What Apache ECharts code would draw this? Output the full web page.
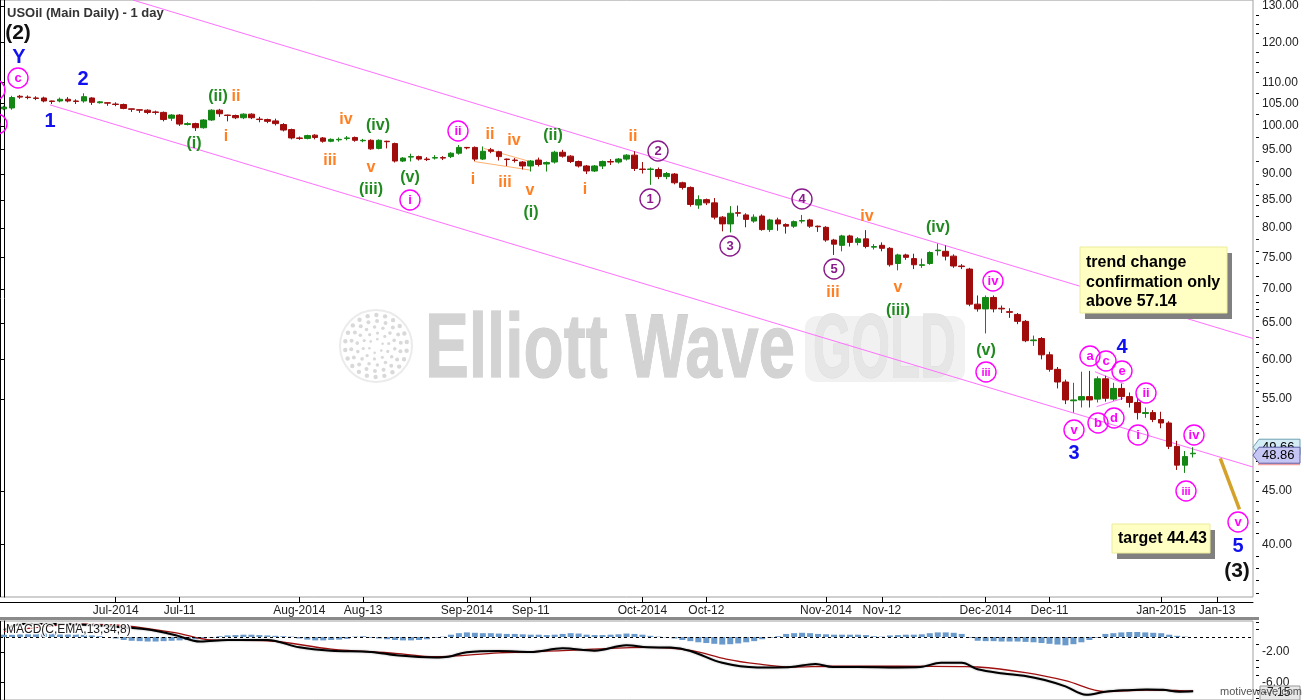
<!DOCTYPE html>
<html><head><meta charset="utf-8">
<script src="https://cdn.jsdelivr.net/npm/echarts@6/dist/echarts.min.js"></script>
<style>html,body{margin:0;padding:0;background:#fff}#c{width:1304px;height:700px}</style>
</head><body><div id="c"></div>
<script>
// ---------------- DATA ----------------
const startDate = '2014-06-11';
const skipDates = ['2014-12-25', '2015-01-01'];
const totalBars = 157; // 150 trading bars + empty space on the right

const opens  = [103.8,104.0,106.7,106.5,106.3,106.3,105.6,105.6,106.0,105.6,105.6,106.3,105.2,105.2,104.9,104.8,103.8,103.6,103.5,103.1,
103.0,101.7,102.4,100.3,100.5,99.6,101.3,103.5,102.4,102.3,101.8,102.6,101.5,101.4,101.1,100.3,99.2,97.4,97.3,98.0,
97.4,96.7,97.0,97.3,97.5,96.8,96.9,95.2,96.7,96.2,92.6,93.4,93.5,93.0,93.2,93.3,93.5,94.2,95.4,95.4,
93.0,94.9,94.5,93.0,92.8,92.4,91.6,92.8,92.0,92.4,94.4,93.6,92.5,91.6,90.6,91.6,92.5,92.4,93.0,93.8,
91.0,90.9,90.9,89.5,90.0,88.3,87.4,84.1,85.1,84.5,81.9,80.7,82.7,82.3,81.2,82.1,79.7,81.4,80.6,80.3,
81.2,81.4,80.3,80.1,77.9,77.0,78.6,77.5,78.1,76.7,77.0,76.5,74.0,75.4,74.8,73.7,74.0,76.1,76.0,75.2,
73.6,73.1,67.7,67.0,68.7,67.1,66.6,66.2,65.2,62.5,62.8,60.6,58.7,57.1,54.8,54.9,55.3,55.0,57.5,55.0,
56.3,55.3,54.6,53.3,53.4,52.6,52.2,49.6,47.6,48.8];
const closes = [104.2,106.4,106.5,106.4,106.2,105.6,105.5,106.0,105.6,105.5,106.6,105.3,105.4,105.1,104.8,103.9,103.7,103.5,103.0,103.0,
101.4,102.4,100.4,100.5,99.6,101.3,103.5,102.7,102.3,101.8,102.6,101.8,101.4,101.0,100.5,99.1,97.4,97.3,97.9,97.5,
96.7,97.1,97.1,97.4,96.9,96.9,95.1,96.9,96.6,92.6,93.2,93.5,93.0,92.9,93.3,93.2,94.2,95.4,95.3,93.0,
94.6,94.6,93.5,92.9,92.7,91.6,92.6,91.9,92.3,94.4,93.6,92.5,91.6,90.6,91.6,92.5,92.4,93.0,93.8,91.1,
90.9,91.0,89.5,90.1,88.3,87.4,84.2,85.1,84.5,81.9,80.7,82.6,82.6,81.5,81.9,79.7,81.4,80.7,80.3,81.1,
81.3,80.3,80.2,77.9,77.2,78.6,77.5,78.1,76.8,76.8,76.5,73.8,75.4,75.0,73.8,73.8,75.8,76.2,75.2,73.6,
73.5,67.7,67.0,68.7,67.0,67.0,66.5,65.2,62.5,62.6,60.6,58.7,57.1,54.9,54.9,55.3,54.9,57.5,55.1,56.3,
55.3,54.6,53.4,53.4,52.6,52.2,49.6,47.6,48.5,48.86];
const lows   = [103.5,103.6,106.1,106.0,105.8,105.3,104.9,105.3,105.3,104.9,105.2,104.7,105.0,104.5,104.4,103.7,103.1,102.9,102.6,102.5,
101.0,101.1,100.0,100.1,98.9,99.4,101.1,102.0,101.0,101.5,101.5,101.5,100.8,100.6,100.1,98.8,97.1,97.0,97.1,97.1,
96.4,96.5,96.6,96.9,96.6,96.5,94.9,95.0,95.2,92.3,92.4,92.5,92.7,92.6,92.9,92.8,93.2,93.9,95.0,92.6,
92.8,94.2,92.7,91.6,92.3,90.9,90.5,91.5,90.5,92.1,93.3,92.2,91.3,90.0,90.4,91.0,91.8,92.1,92.7,90.6,
90.1,87.9,89.0,89.0,88.0,87.0,83.8,83.4,84.1,81.5,79.4,79.2,82.0,80.1,80.9,79.5,79.3,79.5,79.0,80.0,
80.8,80.0,79.3,77.6,75.4,76.0,76.8,77.0,76.5,76.3,76.0,73.5,72.9,74.6,73.1,73.3,73.8,75.3,74.5,73.3,
73.1,67.4,66.6,63.5,66.5,66.4,65.7,64.8,62.3,61.8,60.0,58.4,56.3,54.4,53.4,54.0,54.0,54.6,54.7,54.8,
54.9,54.0,52.6,52.8,52.3,51.6,49.3,47.1,46.8,48.4];
const highs  = [104.5,106.8,107.0,106.9,106.7,106.6,105.7,106.4,106.5,106.0,107.4,106.5,105.6,105.3,105.3,105.0,103.8,103.6,103.7,103.4,
103.2,102.6,102.6,100.8,100.7,101.5,103.7,103.8,102.5,102.5,102.8,102.8,102.0,101.6,101.6,100.6,99.4,97.7,98.1,98.2,
97.6,97.3,97.5,97.8,97.7,97.2,97.1,97.1,96.8,96.4,93.4,94.1,93.7,93.4,93.8,93.6,94.4,95.9,95.5,95.6,
95.6,95.3,94.7,93.1,93.2,92.6,92.8,93.3,92.5,94.7,94.9,93.8,92.7,91.8,91.8,92.7,93.0,93.2,94.0,94.6,
92.4,91.3,91.3,90.4,90.2,88.5,87.6,85.9,85.3,85.4,82.1,83.9,84.0,82.6,82.4,82.4,81.6,81.8,80.8,81.3,
82.3,81.6,80.4,80.3,78.1,78.8,78.8,78.4,79.6,77.2,77.5,76.7,75.6,75.6,75.6,74.8,76.0,77.3,77.0,75.5,
73.9,73.3,69.0,69.0,69.0,67.5,67.1,66.4,65.4,63.2,63.0,61.0,59.0,57.4,57.0,58.4,58.5,57.8,57.9,57.0,
56.9,55.8,55.0,54.0,53.7,53.5,52.4,50.2,49.1,49.5];

// MACD histogram, one value per bar
const macdHist = [0.3,0.3,0.35,0.4,0.4,0.45,0.45,0.4,0.4,0.35,0.3,0.2,0.1,0.0,
-0.2,-0.4,-0.5,-0.55,-0.6,-0.6,-0.55,-0.5,-0.45,-0.4,-0.3,-0.2,-0.1,
0.1,0.2,0.25,0.3,0.3,0.25,0.2,0.15,0.1,0.05,
-0.2,-0.35,-0.45,-0.45,-0.4,-0.35,-0.25,
0.05,0.1,-0.1,-0.2,-0.3,-0.4,-0.45,-0.45,-0.4,-0.3,-0.1,0.05,
0.3,0.5,0.6,0.55,0.5,0.5,0.45,0.4,0.4,0.35,0.3,0.3,0.25,0.3,0.4,0.5,0.45,
0.3,0.25,0.25,0.3,0.35,0.45,0.4,0.3,0.15,0.05,-0.05,
-0.2,-0.4,-0.55,-0.7,-0.8,-0.9,-1.0,-0.95,-0.85,-0.7,-0.55,-0.3,-0.1,0.1,
0.4,0.5,0.55,0.5,0.4,0.35,0.3,0.3,0.3,0.3,0.25,0.1,0.05,
0.2,0.25,0.3,0.3,0.35,0.5,0.6,0.6,0.55,0.4,-0.1,
-0.5,-0.55,-0.55,-0.6,-0.6,-0.6,-0.65,-0.7,-0.8,-0.9,-1.0,-1.1,-0.95,-0.7,-0.4,-0.1,
0.4,0.5,0.6,0.65,0.65,0.6,0.55,0.5,0.3,0.15,0.05,0.0];
// MACD and signal lines, read at bar positions [barIndex, value]
const macdLine = [[0,0.9],[2.3,1.7],[7.4,1.7],[10,1.6],[14,1.35],[17.8,1.0],[21.4,0.26],[24.6,-0.6],[28,-0.4],[33,-0.4],
[37,-1.36],[41,-1.8],[46,-1.97],[49.5,-2.45],[54,-2.7],[55.7,-2.6],[58,-2.0],[62,-1.85],[66,-1.97],[70,-1.5],[74,-1.8],
[78,-1.1],[80.6,-1.36],[83.5,-1.4],[86,-1.84],[90,-3.4],[94.4,-4.0],[96.5,-4.0],[98.6,-3.95],[101.7,-3.55],[103.8,-3.95],
[107,-3.95],[112,-4.0],[114.8,-3.95],[117.4,-3.4],[120,-3.4],[122,-4.25],[125.2,-4.8],[127.8,-5.1],[130.4,-5.66],[133,-6.5],
[135.6,-7.6],[138,-7.2],[140.6,-7.0],[143.2,-6.9],[145.2,-6.95],[147.3,-7.2],[149,-7.15]];
const signalLine = [[0,0.7],[10,1.7],[15,1.5],[21.4,0.57],[26,-0.4],[33,-0.5],[41,-1.6],[49,-2.15],[54,-2.6],[62,-2.1],
[70,-1.8],[80.6,-1.36],[86,-1.75],[90.5,-2.9],[94.4,-3.55],[98.6,-3.95],[103.8,-3.85],[112,-3.85],[120,-3.9],[122,-3.95],
[128,-4.7],[133,-5.75],[138,-7.2],[143,-7.0],[147.3,-7.05],[149,-7.1]];

// Trend lines [barIndex, price]
const upperChannel = [[16.17,131.7],[156.5,62.8]];
const lowerChannel = [[5.77,104.7],[156.5,47.4]];
const orangeLower = [[58.9,92.5],[65.9,90.8]];
const orangeUpper = [[60.1,95.2],[65.9,92.5]];
const triangleBD = [[136.9,54.1],[140.2,55.1]];
const triangleACE = [[136.7,58.4],[140.3,56.9]];
const targetArrow = [[152.4,48.3],[154.8,43.2]];

// Axis ticks / labels
const tickDates = ['2014-07-01','2014-07-11','2014-08-01','2014-08-13','2014-09-01','2014-09-11','2014-10-01','2014-10-13','2014-11-03','2014-11-12','2014-12-01','2014-12-11','2015-01-02','2015-01-13'];
const tickTexts = ['Jul-2014','Jul-11','Aug-2014','Aug-13','Sep-2014','Sep-11','Oct-2014','Oct-12','Nov-2014','Nov-12','Dec-2014','Dec-11','Jan-2015','Jan-13'];
const priceTicks = [40,45,55,60,65,70,75,80,85,90,95,100,105,110,120,130];
const priceMinorTicks = [36,37,38,39,41,42,43,44,46,47,48,49,50,51,52,53,54,56,57,58,59,61,62,63,64,66,67,68,69,72,74,76,78,82,84,86,88,92.5,97.5,102.5,107.5,112.5,115,117.5,122.5,125,127.5];
const macdTicks = [-2,-6];
const macdMinorTicks = [-8,-7,-5,-4,-3,-1,1,2];
const lastPrice = 48.86, prevPrice = 49.66, lastMacd = '-7.15';

// Wave annotations (text labels)
const annotations = [
 {t:'(2)',x:18,y:33,k:'K',f:21},{t:'Y',x:19,y:57,k:'B',f:20},{t:'c',x:18,y:78,k:'M',c:1},
 {t:'a',x:-5,y:90,k:'M',c:1},{t:'b',x:-3,y:124,k:'M',c:1},
 {t:'2',x:83,y:79,k:'B',f:20},{t:'1',x:50,y:121,k:'B',f:20},
 {t:'(i)',x:194,y:144,k:'G'},{t:'(ii)',x:218,y:97,k:'G'},{t:'ii',x:236,y:97,k:'O'},{t:'i',x:226,y:137,k:'O'},
 {t:'iii',x:330,y:161,k:'O'},{t:'iv',x:346,y:120,k:'O'},{t:'(iv)',x:378,y:126,k:'G'},{t:'v',x:371,y:168,k:'O'},
 {t:'(iii)',x:371,y:190,k:'G'},{t:'(v)',x:410,y:178,k:'G'},{t:'i',x:410,y:200,k:'M',c:1},
 {t:'ii',x:458,y:131,k:'M',c:1},{t:'ii',x:490,y:135,k:'O'},{t:'iv',x:514,y:141,k:'O'},{t:'i',x:473,y:180,k:'O'},
 {t:'iii',x:505,y:183,k:'O'},{t:'v',x:530,y:191,k:'O'},{t:'(ii)',x:553,y:136,k:'G'},{t:'(i)',x:531,y:213,k:'G'},
 {t:'i',x:585,y:190,k:'O'},{t:'ii',x:633,y:137,k:'O'},
 {t:'2',x:658,y:151,k:'P',c:1},{t:'1',x:650,y:199,k:'P',c:1},{t:'3',x:730,y:246,k:'P',c:1},{t:'4',x:802,y:199,k:'P',c:1},{t:'5',x:834,y:269,k:'P',c:1},
 {t:'iii',x:833,y:293,k:'O'},{t:'iv',x:867,y:217,k:'O'},{t:'v',x:898,y:288,k:'O'},{t:'(iii)',x:898,y:311,k:'G'},{t:'(iv)',x:938,y:228,k:'G'},
 {t:'iv',x:993,y:281,k:'M',c:1},{t:'(v)',x:986,y:351,k:'G'},{t:'iii',x:986,y:372,k:'M',c:1},
 {t:'a',x:1090,y:356,k:'M',c:1},{t:'c',x:1106,y:361,k:'M',c:1},{t:'4',x:1122,y:347,k:'B',f:20},{t:'e',x:1122,y:371,k:'M',c:1},
 {t:'ii',x:1146,y:393,k:'M',c:1},{t:'b',x:1098,y:423,k:'M',c:1},{t:'d',x:1114,y:418,k:'M',c:1},{t:'v',x:1074,y:430,k:'M',c:1},
 {t:'3',x:1074,y:453,k:'B',f:20},{t:'i',x:1138,y:435,k:'M',c:1},{t:'iv',x:1194,y:435,k:'M',c:1},{t:'iii',x:1186,y:491,k:'M',c:1},
 {t:'v',x:1238,y:522,k:'M',c:1},{t:'5',x:1238,y:546,k:'B',f:20},{t:'(3)',x:1237,y:571,k:'K',f:21}
];
const COLORS = {K:'#111111',B:'#1010f0',G:'#208a20',O:'#ff7f22',M:'#ff00ff',P:'#8a1a8a'};

// ---------------- BUILD ----------------
function buildDates(){
  const out=[]; const d=new Date(startDate+'T00:00:00Z');
  while(out.length<totalBars){
    const wd=d.getUTCDay(); const s=d.toISOString().slice(0,10);
    if(wd!==0&&wd!==6&&skipDates.indexOf(s)<0) out.push(s);
    d.setUTCDate(d.getUTCDate()+1);
  }
  return out;
}
const dates = buildDates();
const labelMap = {}; tickDates.forEach((d,i)=>labelMap[d]=tickTexts[i]);
const showTick = (idx, val) => labelMap[val] !== undefined;
const candles = opens.map((o,i)=>[o, closes[i], lows[i], highs[i]]);

const FONT = '"Liberation Sans", Arial, sans-serif';
const PMIN = 35.67, PMAX = 131.7;
const MMIN = -8.29, MMAX = 2.1;

const chart = echarts.init(document.getElementById('c'), null, {renderer:'canvas'});

function lineSeries(data, color, width, extra){
  return Object.assign({type:'line', xAxisIndex:1, yAxisIndex:0, data:data, symbol:'none', silent:true,
    lineStyle:{color:color, width:width}, z:3, clip:true, animation:false}, extra||{});
}

const option = {
  animation:false,
  backgroundColor:'#ffffff',
  textStyle:{fontFamily:FONT},
  grid:[
    {left:0, right:51, top:0, height:597, show:true, borderColor:'#a0a0a0', borderWidth:1, backgroundColor:'rgba(0,0,0,0)'},
    {left:0, right:51, top:621, bottom:0, show:true, borderColor:'#a0a0a0', borderWidth:1, backgroundColor:'rgba(0,0,0,0)'}
  ],
  xAxis:[
    {type:'category', gridIndex:0, data:dates, boundaryGap:true, position:'bottom', offset:5,
     axisLine:{show:true, lineStyle:{color:'#000', width:1}},
     axisTick:{show:true, inside:true, length:5, alignWithLabel:true, interval:showTick, lineStyle:{color:'#000'}},
     axisLabel:{show:true, interval:showTick, formatter:v=>labelMap[v]||'', fontSize:12, color:'#222', margin:3, fontFamily:FONT},
     splitLine:{show:false}},
    {type:'value', gridIndex:0, min:-0.5, max:totalBars-0.5, show:false},
    {type:'category', gridIndex:1, data:dates, boundaryGap:true, show:false},
    {type:'value', gridIndex:1, min:-0.5, max:totalBars-0.5, show:false}
  ],
  yAxis:[
    {type:'log', logBase:10, gridIndex:0, position:'right', min:PMIN, max:PMAX, offset:6,
     axisLine:{show:true, lineStyle:{color:'#000'}},
     axisTick:{show:true, inside:true, length:6, customValues:priceTicks, lineStyle:{color:'#000'}},
     axisLabel:{show:true, customValues:priceTicks, formatter:v=>Number(v).toFixed(2), margin:3, fontSize:12, color:'#222', fontFamily:FONT},
     splitLine:{show:false}, minorTick:{show:false}},
    {type:'log', logBase:10, gridIndex:0, position:'right', min:PMIN, max:PMAX, offset:6,
     axisLine:{show:false}, axisTick:{show:true, inside:true, length:3, customValues:priceMinorTicks, lineStyle:{color:'#000'}},
     axisLabel:{show:false}, splitLine:{show:false}},
    {type:'value', gridIndex:1, position:'right', min:MMIN, max:MMAX, offset:6,
     axisLine:{show:true, lineStyle:{color:'#000'}},
     axisTick:{show:true, inside:true, length:6, customValues:macdTicks, lineStyle:{color:'#000'}},
     axisLabel:{show:true, customValues:macdTicks, formatter:v=>Number(v).toFixed(2), margin:3, fontSize:12, color:'#222', fontFamily:FONT},
     splitLine:{show:false}},
    {type:'value', gridIndex:1, position:'right', min:MMIN, max:MMAX, offset:6,
     axisLine:{show:false}, axisTick:{show:true, inside:true, length:3, customValues:macdMinorTicks, lineStyle:{color:'#000'}},
     axisLabel:{show:false}, splitLine:{show:false}}
  ],
  series:[
    {type:'candlestick', xAxisIndex:0, yAxisIndex:0, data:candles, barWidth:6, z:5,
     itemStyle:{color:'#138613', color0:'#a00c0c', borderColor:'#138613', borderColor0:'#a00c0c', borderWidth:1}},
    lineSeries(upperChannel, '#ff70ff', 1),
    lineSeries(lowerChannel, '#ff70ff', 1),
    lineSeries(orangeLower, '#ffb070', 1),
    lineSeries(orangeUpper, '#ffb070', 1),
    lineSeries(triangleBD, '#ff70ff', 1),
    lineSeries(triangleACE, '#ff70ff', 1),
    lineSeries([], '#d4a22a', 3, {z:6, markLine:{silent:true, symbol:['none','arrow'], symbolSize:[1,15], label:{show:false},
      lineStyle:{color:'#d4a22a', width:3.5, type:'solid'}, animation:false,
      data:[[{coord:targetArrow[0]},{coord:targetArrow[1]}]]}}),
    {type:'bar', xAxisIndex:2, yAxisIndex:2, data:macdHist, barWidth:6, itemStyle:{color:'#6a9acb'}, silent:true, z:2,
     markLine:{silent:true, symbol:'none', label:{show:false}, lineStyle:{color:'#000', type:[3,3], width:1}, data:[{yAxis:0}], animation:false}},
    {type:'line', xAxisIndex:3, yAxisIndex:2, data:signalLine, smooth:0.35, symbol:'none', silent:true, z:3,
     lineStyle:{color:'#a01010', width:1.3}},
    {type:'line', xAxisIndex:3, yAxisIndex:2, data:macdLine, smooth:0.35, symbol:'none', silent:true, z:4,
     lineStyle:{color:'#000', width:2, shadowColor:'rgba(0,0,0,0.35)', shadowBlur:2}}
  ]
};
chart.setOption(option);

// ---------------- OVERLAY GRAPHICS ----------------
const els = [];
const measureCtx = document.createElement('canvas').getContext('2d');
function fitScale(text, font, targetWidth){ measureCtx.font = font; return targetWidth / measureCtx.measureText(text).width; }

// watermark logo (ring of dots)
const rings = [[7,6,1.3],[13,10,1.6],[19,14,1.8],[25,18,2.0],[31,22,2.2]];
rings.forEach(r=>{ for(let i=0;i<r[1];i++){ const a=i/r[1]*Math.PI*2+r[0];
  els.push({type:'circle', silent:true, z:1, shape:{cx:376+r[0]*Math.cos(a), cy:346+r[0]*Math.sin(a), r:r[2]}, style:{fill:'#d9d9d9'}}); }});
els.push({type:'circle', silent:true, z:1, shape:{cx:376, cy:346, r:36}, style:{fill:'none', stroke:'#ebebeb', lineWidth:2}});
const WM_FONT = 'bold 90px "Liberation Sans", Arial, sans-serif';
els.push({type:'text', silent:true, z:1, x:425, y:352, scaleX:fitScale('Elliott Wave', WM_FONT, 370),
  style:{text:'Elliott Wave', font:WM_FONT, fill:'#d3d3d3', stroke:'#c9c9c9', lineWidth:1, verticalAlign:'middle', textVerticalAlign:'middle'}});
els.push({type:'rect', silent:true, z:1, shape:{x:805, y:316, width:160, height:66, r:12}, style:{fill:'#f1f1f1'}});
els.push({type:'text', silent:true, z:1, x:813, y:352, scaleX:fitScale('GOLD', WM_FONT, 143),
  style:{text:'GOLD', font:WM_FONT, fill:'#e6e6e6', stroke:'#dadada', lineWidth:1, verticalAlign:'middle', textVerticalAlign:'middle'}});

// borders
els.push({type:'line', silent:true, z:20, shape:{x1:0.5,y1:0,x2:0.5,y2:597}, style:{stroke:'#000', lineWidth:1}});
els.push({type:'line', silent:true, z:20, shape:{x1:0.5,y1:621,x2:0.5,y2:700}, style:{stroke:'#000', lineWidth:1}});
els.push({type:'rect', silent:true, z:20, shape:{x:0,y:617,width:1259,height:3}, style:{fill:'#8a8a8a'}});

// title
els.push({type:'text', silent:true, z:60, x:7, y:13, style:{text:'USOil (Main Daily) - 1 day', font:'bold 13px '+FONT, fill:'#333', verticalAlign:'middle', textVerticalAlign:'middle'}});

// wave annotations
annotations.forEach(a=>{
  const col = COLORS[a.k];
  if(a.c){
    els.push({type:'circle', silent:true, z:50, shape:{cx:a.x, cy:a.y, r:10}, style:{fill:'rgba(255,255,255,0)', stroke:col, lineWidth:1.4}});
    els.push({type:'text', silent:true, z:51, x:a.x, y:a.y+0.5, style:{text:a.t, font:'bold '+(a.t.length>2?11:13)+'px '+FONT, fill:col, align:'center', verticalAlign:'middle', textAlign:'center', textVerticalAlign:'middle'}});
  } else {
    const f = a.f || 16;
    els.push({type:'text', silent:true, z:51, x:a.x, y:a.y, style:{text:a.t, font:'bold '+f+'px '+FONT, fill:col, align:'center', verticalAlign:'middle', textAlign:'center', textVerticalAlign:'middle'}});
  }
});

// note boxes
function noteBox(x,y,w,h,lines,lh,dy){
  els.push({type:'rect', silent:true, z:70, shape:{x:x+5,y:y+6,width:w,height:h}, style:{fill:'#808080'}});
  els.push({type:'rect', silent:true, z:71, shape:{x:x,y:y,width:w,height:h}, style:{fill:'#ffffc4', stroke:'#ecec9a', lineWidth:1}});
  lines.forEach((t,i)=>els.push({type:'text', silent:true, z:72, x:x+6, y:y+dy+i*lh, style:{text:t, font:'bold 16px '+FONT, fill:'#000', verticalAlign:'middle', textVerticalAlign:'middle'}}));
}
noteBox(1080,247,147,66,['trend change','confirmation only','above 57.14'],19.5,16);
noteBox(1112,524,98,29,['target 44.43'],0,15);

// current price markers on the axis
const yLast = chart.convertToPixel({yAxisIndex:0}, lastPrice);
function priceTag(yc, txt, fill, stroke, z){
  els.push({type:'polygon', silent:true, z:z, shape:{points:[[1253,yc],[1259,yc-8],[1300,yc-8],[1300,yc+8],[1259,yc+8]]}, style:{fill:fill, stroke:stroke, lineWidth:1}});
  els.push({type:'text', silent:true, z:z+1, x:1262, y:yc+0.5, style:{text:txt, font:'13px '+FONT, fill:'#000', verticalAlign:'middle', textVerticalAlign:'middle'}});
}
priceTag(yLast-6, prevPrice.toFixed(2), '#d4ecf6', '#6f9fb0', 80);
els.push({type:'line', silent:true, z:81, shape:{x1:1258,y1:yLast+11,x2:1300,y2:yLast+11}, style:{stroke:'#f0a0a0', lineWidth:2}});
priceTag(yLast+2, lastPrice.toFixed(2), '#c6c6f4', '#6060a8', 82);

// MACD panel texts
els.push({type:'text', silent:true, z:60, x:6, y:630, style:{text:'MACD(C,EMA,13,34,8)', font:'12px '+FONT, fill:'#1a1a1a', stroke:'rgba(255,255,255,0.85)', lineWidth:3, strokeFirst:true, verticalAlign:'middle', textVerticalAlign:'middle'}});
els.push({type:'rect', silent:true, z:80, shape:{x:1260,y:686,width:40,height:14}, style:{fill:'#e8e8e8', stroke:'#999', lineWidth:1}});
els.push({type:'text', silent:true, z:81, x:1263, y:693, style:{text:lastMacd, font:'12px '+FONT, fill:'#222', verticalAlign:'middle', textVerticalAlign:'middle'}});
els.push({type:'text', silent:true, z:85, x:1302, y:692, style:{text:'motivewave.com', font:'11px '+FONT, fill:'#555', align:'right', textAlign:'right', verticalAlign:'middle', textVerticalAlign:'middle'}});

chart.setOption({graphic:{elements:els}});
</script>
</body></html>
